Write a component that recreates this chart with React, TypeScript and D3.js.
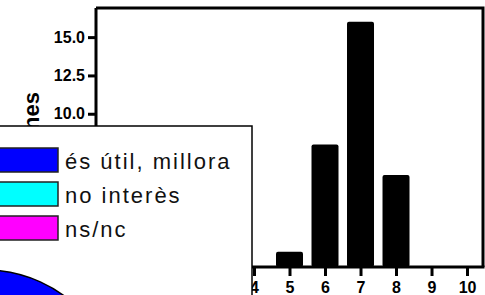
import React, { useEffect, useRef } from 'react';
import * as d3 from 'd3';

// histogram values (score -> count); scores below 4 sit behind the legend panel
const scores = [4, 5, 6, 7, 8, 9, 10];
const counts = [0, 1, 8, 16, 6, 0, 0];
// only the ticks not hidden by the legend panel
const yTicks = [10, 12.5, 15];

// pie legend
const pieLabels = ['és útil, millora', 'no interès', 'ns/nc'];
const pieValues = [30, 3, 2];
const pieColors = ['#0000ff', '#00ffff', '#ff00ff'];

const W = 485;
const H = 295;

const App: React.FC = () => {
  const svgRef = useRef<SVGSVGElement | null>(null);

  useEffect(() => {
    if (!svgRef.current) return;
    const svg = d3.select(svgRef.current);
    svg.selectAll('*').remove();

    const left = 96, right = 483, top = 8, bottom = 267;

    const x = d3.scaleLinear().domain([-0.45, 10.45]).range([left, right]);
    const y = d3.scaleLinear().domain([0, 16.9]).range([bottom, top]);
    const barW = 27;
    const font = '"Liberation Sans", Arial, sans-serif';

    const chart = svg.append('g');

    // bars
    chart
      .selectAll('rect.bar')
      .data(scores.map((s, i) => ({ s, c: counts[i] })).filter((d) => d.c > 0))
      .enter()
      .append('rect')
      .attr('class', 'bar')
      .attr('x', (d) => x(d.s) - barW / 2)
      .attr('y', (d) => y(d.c))
      .attr('width', barW)
      .attr('height', (d) => bottom - y(d.c))
      .attr('rx', 2)
      .attr('fill', '#000');

    // frame top/right
    chart
      .append('path')
      .attr('d', `M${left},${top}H${right}V${bottom}`)
      .attr('fill', 'none')
      .attr('stroke', '#000')
      .attr('stroke-width', 3);

    // Y axis
    const yAxis = chart
      .append('g')
      .attr('transform', `translate(${left},0)`)
      .call(d3.axisLeft(y).tickValues(yTicks).tickFormat(d3.format('.1f')).tickSize(8).tickPadding(3));
    yAxis.select('.domain').attr('stroke-width', 3).attr('d', `M0,${top}V${bottom + 1.5}`);
    yAxis.selectAll('.tick line').attr('stroke-width', 3);
    yAxis
      .selectAll('text')
      .style('font-family', font)
      .style('font-weight', 'bold')
      .style('font-size', '16px');

    // X axis
    const xAxis = chart
      .append('g')
      .attr('transform', `translate(0,${bottom})`)
      .call(d3.axisBottom(x).tickValues(scores).tickFormat(d3.format('d')).tickSize(9).tickPadding(6));
    xAxis.select('.domain').attr('stroke-width', 3).attr('d', `M${left - 1.5},0H${right + 1.5}`);
    xAxis.selectAll('.tick line').attr('stroke-width', 3);
    xAxis
      .selectAll('text')
      .style('font-family', font)
      .style('font-weight', 'bold')
      .style('font-size', '16px');

    // Y label
    chart
      .append('text')
      .attr('transform', 'translate(39,92) rotate(-90)')
      .attr('text-anchor', 'end')
      .style('font-family', font)
      .style('font-weight', 'bold')
      .style('font-size', '22px')
      .text('Persones');

    // legend / pie panel on top
    const panel = svg.append('g');
    panel
      .append('rect')
      .attr('x', -3)
      .attr('y', 126)
      .attr('width', 255)
      .attr('height', 200)
      .attr('fill', '#fff')
      .attr('stroke', '#000')
      .attr('stroke-width', 1.5);

    const pie = d3.pie<number>().sort(null)(pieValues);
    const arc = d3.arc<d3.PieArcDatum<number>>().innerRadius(0).outerRadius(134);
    panel
      .append('g')
      .attr('transform', 'translate(-15,404)')
      .selectAll('path')
      .data(pie)
      .enter()
      .append('path')
      .attr('d', arc)
      .attr('fill', (_, i) => pieColors[i])
      .attr('stroke', '#000')
      .attr('stroke-width', 1.5);

    const legend = panel
      .selectAll('g.item')
      .data(pieLabels)
      .enter()
      .append('g')
      .attr('class', 'item')
      .attr('transform', (_, i) => `translate(0,${148 + i * 34})`);
    legend
      .append('rect')
      .attr('x', -3)
      .attr('y', 0)
      .attr('width', 61)
      .attr('height', 24)
      .attr('fill', (_, i) => pieColors[i])
      .attr('stroke', '#222')
      .attr('stroke-width', 1.5);
    legend
      .append('text')
      .attr('x', 65)
      .attr('y', 21)
      .style('font-family', font)
      .style('font-size', '22px')
      .style('letter-spacing', '2px')
      .attr('fill', '#111')
      .text((d) => d);
  }, []);

  return (
    <svg
      ref={svgRef}
      width={W}
      height={H}
      style={{ position: 'absolute', left: 0, top: 0, background: '#fff' }}
    />
  );
};

export default App;
